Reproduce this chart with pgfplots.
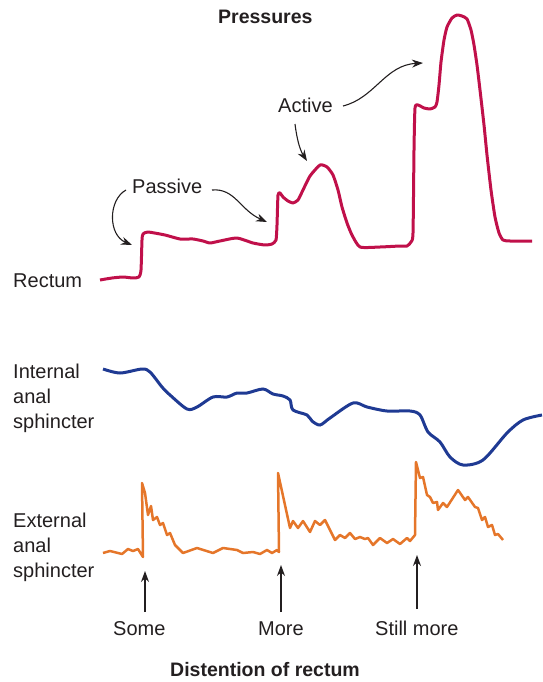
\documentclass[border=0pt]{standalone}
\usepackage{pgfplots}
\pgfplotsset{compat=1.18}
\usepackage{fontspec}
\setmainfont{Liberation Sans}
\usetikzlibrary{arrows.meta}
\definecolor{rect}{HTML}{C0104A}
\definecolor{intc}{HTML}{1F3A93}
\definecolor{extc}{HTML}{E5762A}
\definecolor{txt}{HTML}{231F20}
\tikzset{lab/.style={anchor=base west, inner sep=0pt, text=txt, font=\fontsize{20}{24}\selectfont},
  blab/.style={anchor=base west, inner sep=0pt, text=txt, font=\fontsize{19.5}{23}\selectfont\bfseries},
  arr/.style={-{Stealth[length=11pt,width=8pt]}, line width=1.1pt, txt}}
\begin{document}
\begin{tikzpicture}[x=1pt,y=1pt]
\begin{axis}[
  width=542pt, height=682pt, scale only axis,
  xmin=0, xmax=542, ymin=0, ymax=682, y dir=reverse,
  axis lines=none, ticks=none, clip=false,
]
% Rectum
\addplot[rect, line width=3pt, smooth, tension=0.35, line join=round] coordinates {
(100,280)(112,278)(123,277)(133,278)(139,277)(141,270)(142,240)(143,234)(148,232)(165,235)(180,239)(193,239)(203,241)(210,243)(220,241)(237,238)(253,243)(265,245)(272,244)(276,240)(277,225)(278,195)(280,193)(283,197)(288,201)(293,203)(298,200)(303,190)(310,176)(320,165)(327,167)(333,175)(338,190)(342,207)(347,223)(352,235)(360,247)(380,247)(400,246)(407,246)(411,242)(413,233)(414,150)(415,108)(418,105)(424,108)(430,109)(435,107)(437,102)(439,85)(441,62)(444,40)(447,27)(452,18)(457,15)(462,16)(467,19)(471,30)(474,45)(477,65)(480,90)(484,125)(487,155)(491,190)(495,217)(499,233)(503,240)(510,241)(532,241)
};
% Internal anal sphincter
\addplot[intc, line width=3pt, smooth, tension=0.5] coordinates {
(103,369)(120,373)(142,369)(150,372)(162,387)(170,395)(187,409)(197,407)(213,397)(227,397)(237,393)(247,393)(263,389)(273,394)(283,396)(290,400)(293,410)(307,415)(312,421)(320,425)(330,418)(353,403)(367,407)(387,411)(410,411)(420,415)(428,432)(440,442)(450,457)(463,465)(483,460)(507,433)(523,420)(542,415)
};
% External anal sphincter
\addplot[extc, line width=2.5pt, line join=round] coordinates {
(103,553)(110,551)(122,554)(128,549)(133,551)(138,549)(143,557)(142,483)(145,493)(148,515)(151,506)(153,520)(157,517)(160,525)(163,523)(167,535)(170,533)(175,545)(183,553)(197,548)(213,553)(223,548)(237,550)(243,553)(253,552)(260,554)(267,550)(272,553)(277,550)(279,552)(278,473)(290,528)(293,521)(298,528)(303,521)(310,532)(315,521)(320,525)(325,520)(335,540)(340,535)(345,538)(350,533)(355,539)(360,537)(365,539)(368,538)(373,545)(380,538)(387,543)(393,539)(400,544)(407,538)(410,541)(415,535)(416,462)(420,478)(423,477)(427,495)(430,497)(433,503)(437,502)(438,510)(443,503)(447,507)(458,490)(465,500)(468,497)(475,507)(478,508)(482,520)(485,517)(488,527)(492,525)(495,535)(498,534)(503,540)
};
% titles and labels
\node[blab] at (axis cs:218,24) {Pressures};
\node[blab] at (axis cs:170,676) {Distention of rectum};
\node[lab] at (axis cs:13,287) {Rectum};
\node[lab] at (axis cs:13,378) {Internal};
\node[lab] at (axis cs:13,403) {anal};
\node[lab] at (axis cs:13,428) {sphincter};
\node[lab] at (axis cs:13,527) {External};
\node[lab] at (axis cs:13,552) {anal};
\node[lab] at (axis cs:13,577) {sphincter};
\node[lab] at (axis cs:113,635) {Some};
\node[lab] at (axis cs:258,635) {More};
\node[lab] at (axis cs:375,635) {Still more};
\node[lab] at (axis cs:132,193) {Passive};
\node[lab] at (axis cs:278,113) {Active};
% arrows
\draw[arr] (axis cs:145,612) -- (axis cs:145,571);
\draw[arr] (axis cs:281,612) -- (axis cs:281,565);
\draw[arr] (axis cs:417,609) -- (axis cs:417,555);
\draw[arr] (axis cs:126,190) .. controls (axis cs:108,200) and (axis cs:108,235) .. (axis cs:132,245);
\draw[arr] (axis cs:212,190) .. controls (axis cs:235,188) and (axis cs:240,210) .. (axis cs:267,222);
\draw[arr] (axis cs:295,124) .. controls (axis cs:297,140) and (axis cs:300,150) .. (axis cs:307,161);
\draw[arr] (axis cs:343,106) .. controls (axis cs:375,98) and (axis cs:385,65) .. (axis cs:423,63);
\end{axis}
\pgfresetboundingbox
\path (current axis.south west) rectangle (current axis.north east);
\end{tikzpicture}
\end{document}
